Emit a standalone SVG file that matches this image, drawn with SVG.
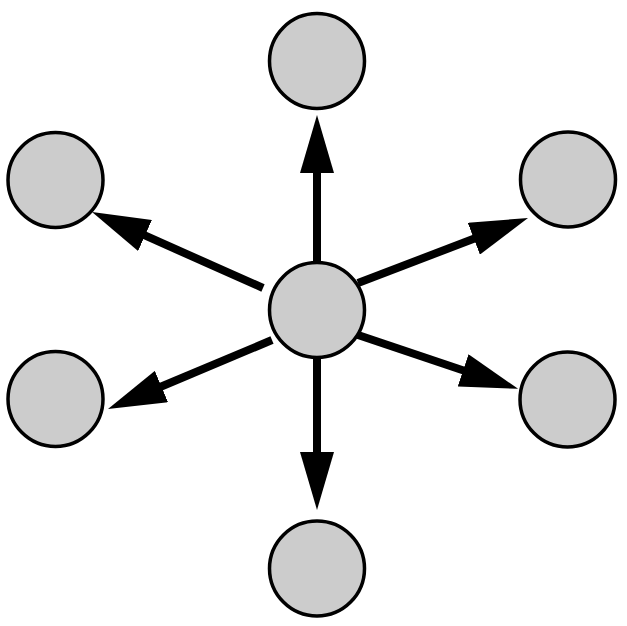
<svg xmlns="http://www.w3.org/2000/svg" width="627" height="626" viewBox="0 0 627 626">
  <style>
    .node { fill: #cccccc; stroke: #000000; stroke-width: 3.5; }
    .edge { fill: none; stroke: #000000; stroke-width: 8; marker-end: url(#head); }
  </style>
  <defs>
    <marker id="head" markerUnits="userSpaceOnUse" viewBox="0 0 58 34" refX="2" refY="17" markerWidth="58" markerHeight="34" orient="auto">
      <path d="M0,0 L58,17 L0,34 Z" fill="#000000"/>
    </marker>
  </defs>
  <rect width="627" height="626" fill="#ffffff"/>
  <g id="connectors">
    <line class="edge" x1="317" y1="262" x2="317" y2="171"/>
    <line class="edge" x1="317" y1="358" x2="317" y2="454"/>
    <line class="edge" x1="263" y1="288" x2="143.2" y2="234.7"/>
    <line class="edge" x1="358" y1="283" x2="475.7" y2="238"/>
    <line class="edge" x1="272" y1="340" x2="159.6" y2="387.3"/>
    <line class="edge" x1="358" y1="335" x2="465" y2="371"/>
  </g>
  <g id="node-center"><circle class="node" cx="317" cy="310" r="47.5"/></g>
  <g id="node-top"><circle class="node" cx="317" cy="61" r="47.5"/></g>
  <g id="node-bottom"><circle class="node" cx="317" cy="568.5" r="47.5"/></g>
  <g id="node-left-top"><circle class="node" cx="55.5" cy="180" r="47.5"/></g>
  <g id="node-right-top"><circle class="node" cx="568" cy="179.5" r="47.5"/></g>
  <g id="node-left-bottom"><circle class="node" cx="55.5" cy="399" r="47.5"/></g>
  <g id="node-right-bottom"><circle class="node" cx="567.5" cy="399.5" r="47.5"/></g>
</svg>
